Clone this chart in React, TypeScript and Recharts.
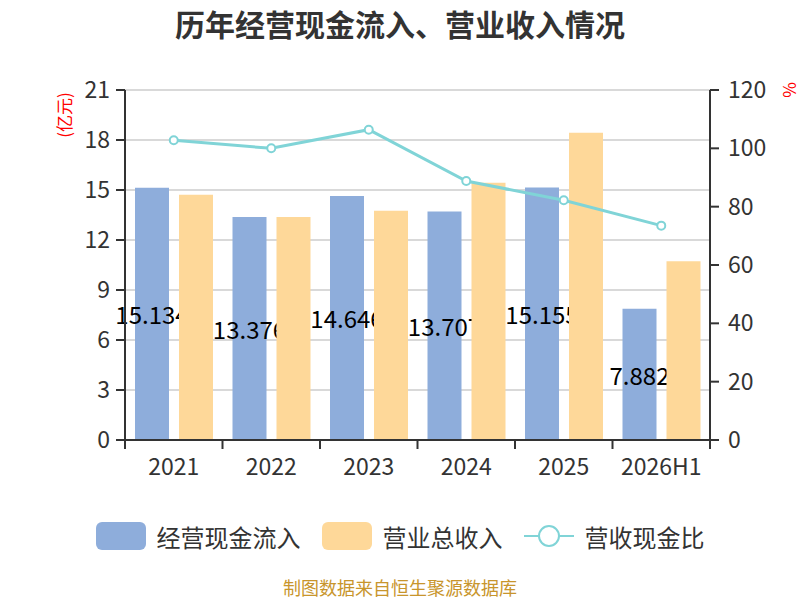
import { Bar, CartesianGrid, ComposedChart, Line, Rectangle, XAxis, YAxis } from "recharts";

const years = ["2021", "2022", "2023", "2024", "2025", "2026H1"];
const cashIn = [15.134, 13.376, 14.646, 13.707, 15.155, 7.882];
const revenue = [14.72, 13.38, 13.76, 15.44, 18.44, 10.72];
const ratio = [102.8, 100.0, 106.4, 88.8, 82.2, 73.5];
const leftTicks = [0, 3, 6, 9, 12, 15, 18, 21];
const rightTicks = [0, 20, 40, 60, 80, 100, 120];

const data = years.map((year, i) => ({
  year,
  cash: cashIn[i],
  revenue: revenue[i],
  ratio: ratio[i],
}));

const W = 800;
const H = 600;
const LEFT = 125;
const RIGHT = 90;
const TOP = 90;
const BOTTOM = 160;
const BAND = (W - LEFT - RIGHT) / years.length;
const AXIS_Y = H - BOTTOM;

const FONT = '"Noto Sans CJK SC", "Noto Sans", sans-serif';
const BLUE = "#8eaddb";
const ORANGE = "#fed899";
const TEAL = "#80d4d7";

function YearTick(props: any) {
  const { x, payload, index } = props;
  return (
    <g>
      <line x1={x - BAND / 2} x2={x - BAND / 2} y1={AXIS_Y} y2={AXIS_Y + 9} stroke="#333" strokeWidth={2} />
      {index === years.length - 1 && (
        <line x1={x + BAND / 2} x2={x + BAND / 2} y1={AXIS_Y} y2={AXIS_Y + 9} stroke="#333" strokeWidth={2} />
      )}
      <text x={x} y={AXIS_Y + 25} textAnchor="middle" dominantBaseline="central" fill="#333" fontSize={23} fontFamily={FONT}>
        {payload.value}
      </text>
    </g>
  );
}

// the value label goes with the blue bar, so the orange bar drawn next covers part of it
function CashBar(props: any) {
  const { x, y, width, height, value } = props;
  return (
    <g>
      <Rectangle x={x} y={y} width={width} height={height} fill={BLUE} />
      <text x={x + width / 2} y={y + height / 2} textAnchor="middle" dominantBaseline="central" fill="#000" fontSize={24} fontFamily={FONT}>
        {value}
      </text>
    </g>
  );
}

export default function App() {
  return (
    <div style={{ position: "absolute", left: 0, top: 0, width: W, height: H, background: "#fff", fontFamily: FONT }}>
      <div style={{ position: "absolute", top: 1, width: W, textAlign: "center", fontSize: 30, fontWeight: "bold", color: "#333" }}>
        历年经营现金流入、营业收入情况
      </div>
      <div style={{ position: "absolute", left: 63, top: 115, transform: "translate(-50%, -50%) rotate(-90deg)", fontSize: 17, color: "#ff0000", whiteSpace: "nowrap" }}>
        (亿元)
      </div>
      <div style={{ position: "absolute", left: 788, top: 90, transform: "translate(-50%, -50%) rotate(-90deg)", fontSize: 17, color: "#ff0000" }}>
        %
      </div>
      <ComposedChart width={W} height={H} data={data} margin={{ top: TOP, right: 30, left: 65, bottom: 120 }} barGap={10}>
        <CartesianGrid yAxisId="left" vertical={false} stroke="#ccc" strokeWidth={1.5} />
        <XAxis dataKey="year" height={40} tickLine={false} axisLine={{ stroke: "#333", strokeWidth: 2 }} tick={<YearTick />} interval={0} />
        <YAxis
          yAxisId="left"
          width={60}
          domain={[0, 21]}
          ticks={leftTicks}
          interval={0}
          axisLine={{ stroke: "#333", strokeWidth: 2 }}
          tickLine={{ stroke: "#333", strokeWidth: 2 }}
          tickSize={9}
          tickMargin={6}
          tick={{ fill: "#333", fontSize: 23, fontFamily: FONT }}
        />
        <YAxis
          yAxisId="right"
          orientation="right"
          width={60}
          domain={[0, 120]}
          ticks={rightTicks}
          interval={0}
          axisLine={{ stroke: "#333", strokeWidth: 2 }}
          tickLine={{ stroke: "#333", strokeWidth: 2 }}
          tickSize={9}
          tickMargin={9}
          tick={{ fill: "#333", fontSize: 23, fontFamily: FONT }}
        />
        <Bar yAxisId="left" dataKey="cash" fill={BLUE} barSize={34} shape={<CashBar />} isAnimationActive={false} />
        <Bar yAxisId="left" dataKey="revenue" fill={ORANGE} barSize={34} isAnimationActive={false} />
        <Line
          yAxisId="right"
          dataKey="ratio"
          stroke={TEAL}
          strokeWidth={3}
          dot={{ r: 4, fill: "#fff", stroke: TEAL, strokeWidth: 2 }}
          isAnimationActive={false}
        />
      </ComposedChart>
      <div style={{ position: "absolute", top: 521, left: 0, width: W, height: 30, display: "flex", justifyContent: "center", alignItems: "center", fontSize: 24, color: "#333" }}>
        <span style={{ width: 50, height: 28, borderRadius: 6, background: BLUE, marginRight: 11 }} />
        <span style={{ marginRight: 21 }}>经营现金流入</span>
        <span style={{ width: 50, height: 28, borderRadius: 6, background: ORANGE, marginRight: 11 }} />
        <span style={{ marginRight: 21 }}>营业总收入</span>
        <svg width={50} height={28} style={{ marginRight: 11 }}>
          <line x1={0} x2={50} y1={14} y2={14} stroke={TEAL} strokeWidth={2} />
          <circle cx={25} cy={14} r={10} fill="#fff" stroke={TEAL} strokeWidth={2} />
        </svg>
        <span>营收现金比</span>
      </div>
      <div style={{ position: "absolute", top: 577, width: W, textAlign: "center", fontSize: 18, lineHeight: "20px", color: "#c8952c" }}>
        制图数据来自恒生聚源数据库
      </div>
    </div>
  );
}
